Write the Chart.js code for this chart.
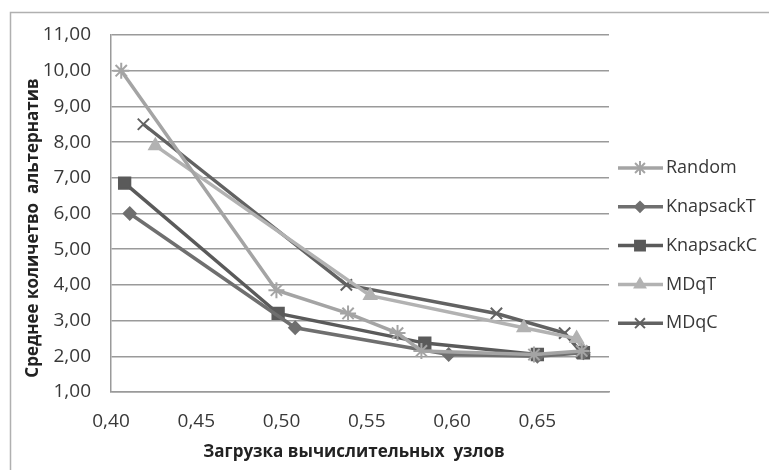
<!DOCTYPE html>
<html>
<head>
<meta charset="utf-8">
<script src="https://cdn.jsdelivr.net/npm/chart.js@4/dist/chart.umd.min.js"></script>
<style>
  html, body { margin: 0; padding: 0; background: #fff; }
  #wrap { width: 769px; height: 470px; }
</style>
</head>
<body>
<div id="wrap"><canvas id="myChart" width="769" height="470"></canvas></div>
<script>
// series: load of computing nodes (x) vs mean number of alternatives (y)
const seriesNames = ['Random', 'KnapsackT', 'KnapsackC', 'MDqT', 'MDqC'];

const randomX    = [0.406, 0.497, 0.539, 0.568, 0.582, 0.648, 0.676];
const randomY    = [10.0, 3.85, 3.2, 2.65, 2.15, 2.05, 2.15];
const knapTX     = [0.411, 0.508, 0.598, 0.650, 0.677];
const knapTY     = [6.0, 2.8, 2.05, 2.0, 2.1];
const knapCX     = [0.408, 0.498, 0.584, 0.650, 0.677];
const knapCY     = [6.85, 3.2, 2.37, 2.05, 2.1];
const mdqTX      = [0.426, 0.552, 0.642, 0.673, 0.677];
const mdqTY      = [7.9, 3.7, 2.8, 2.5, 2.15];
const mdqCX      = [0.419, 0.538, 0.626, 0.666, 0.676];
const mdqCY      = [8.5, 4.0, 3.2, 2.65, 2.1];

const xTitle = 'Загрузка вычислительных  узлов';
const yTitle = 'Среднее количетво  альтернатив';

function pairs(xs, ys) {
  return xs.map((x, i) => ({ x: x, y: ys[i] }));
}

const styles = [
  { color: '#a4a4a4', point: 'star',     radius: 8 },
  { color: '#6f6f6f', point: 'rectRot',  radius: 6 },
  { color: '#5a5a5a', point: 'rect',     radius: 8 },
  { color: '#b2b2b2', point: 'triangle', radius: 7 },
  { color: '#626262', point: 'crossRot', radius: 8 }
];

const allData = [
  pairs(randomX, randomY),
  pairs(knapTX, knapTY),
  pairs(knapCX, knapCY),
  pairs(mdqTX, mdqTY),
  pairs(mdqCX, mdqCY)
];

const datasets = seriesNames.map((name, i) => ({
  label: name,
  data: allData[i],
  showLine: true,
  borderColor: styles[i].color,
  backgroundColor: styles[i].color,
  borderWidth: 3.5,
  pointStyle: styles[i].point,
  pointRadius: styles[i].radius,
  pointBorderWidth: 2,
  pointHoverRadius: styles[i].radius
}));

const fmt = v => v.toFixed(2).replace('.', ',');

// frame, axis titles and the right-hand legend (line + marker)
const frameAndLegend = {
  id: 'frameAndLegend',
  beforeDraw(chart) {
    const ctx = chart.ctx;
    ctx.save();
    ctx.fillStyle = '#fff';
    ctx.fillRect(0, 0, chart.width, chart.height);
    ctx.strokeStyle = '#b0b0b0';
    ctx.lineWidth = 1.5;
    ctx.strokeRect(10.5, 12.5, 800, 500);
    ctx.restore();
  },
  afterDraw(chart) {
    const ctx = chart.ctx;
    ctx.save();
    ctx.fillStyle = '#222';
    ctx.font = 'bold 17px "Open Sans"';
    ctx.textAlign = 'center';
    ctx.textBaseline = 'middle';
    ctx.fillText(xTitle, 354, 452);
    ctx.translate(33, 228);
    ctx.rotate(-Math.PI / 2);
    ctx.fillText(yTitle, 0, 0);
    ctx.restore();

    ctx.save();
    chart.data.datasets.forEach((ds, i) => {
      const y = 168 + i * 38.8;
      ctx.strokeStyle = ds.borderColor;
      ctx.lineWidth = 3.5;
      ctx.beginPath();
      ctx.moveTo(618, y);
      ctx.lineTo(663, y);
      ctx.stroke();
      ctx.fillStyle = ds.backgroundColor;
      ctx.strokeStyle = ds.borderColor;
      ctx.lineWidth = 2;
      Chart.helpers.drawPoint(ctx, {
        pointStyle: ds.pointStyle,
        radius: ds.pointRadius - 1,
        rotation: 0,
        borderWidth: 2
      }, 640, y);
      ctx.fillStyle = '#383838';
      ctx.font = '18px "Open Sans"';
      ctx.textBaseline = 'middle';
      ctx.textAlign = 'left';
      ctx.fillText(ds.label, 666, y);
    });
    ctx.restore();
  }
};

new Chart(document.getElementById('myChart').getContext('2d'), {
  type: 'scatter',
  data: { datasets: datasets },
  plugins: [frameAndLegend],
  options: {
    responsive: false,
    animation: false,
    layout: { padding: { left: 0, top: 35, right: 160, bottom: 0 } },
    plugins: {
      legend: { display: false },
      tooltip: { enabled: false }
    },
    scales: {
      x: {
        type: 'linear',
        min: 0.40,
        max: 0.692,
        afterFit(scale) { scale.height = 78; },
        grid: { display: false, drawTicks: false },
        border: { display: true, color: '#9a9a9a', width: 1.5 },
        ticks: {
          stepSize: 0.05,
          includeBounds: false,
          padding: 18,
          color: '#383838',
          font: { family: 'Open Sans', size: 19 },
          callback: v => fmt(v)
        },
        title: { display: false }
      },
      y: {
        min: 1,
        max: 11,
        afterFit(scale) { scale.width = 111; },
        grid: { color: '#9a9a9a', lineWidth: 1.5, drawTicks: false },
        border: { display: true, color: '#9a9a9a', width: 1.5 },
        ticks: {
          stepSize: 1,
          padding: 20,
          color: '#383838',
          font: { family: 'Open Sans', size: 19 },
          callback: v => fmt(v)
        },
        title: { display: false }
      }
    }
  }
});
</script>
</body>
</html>
